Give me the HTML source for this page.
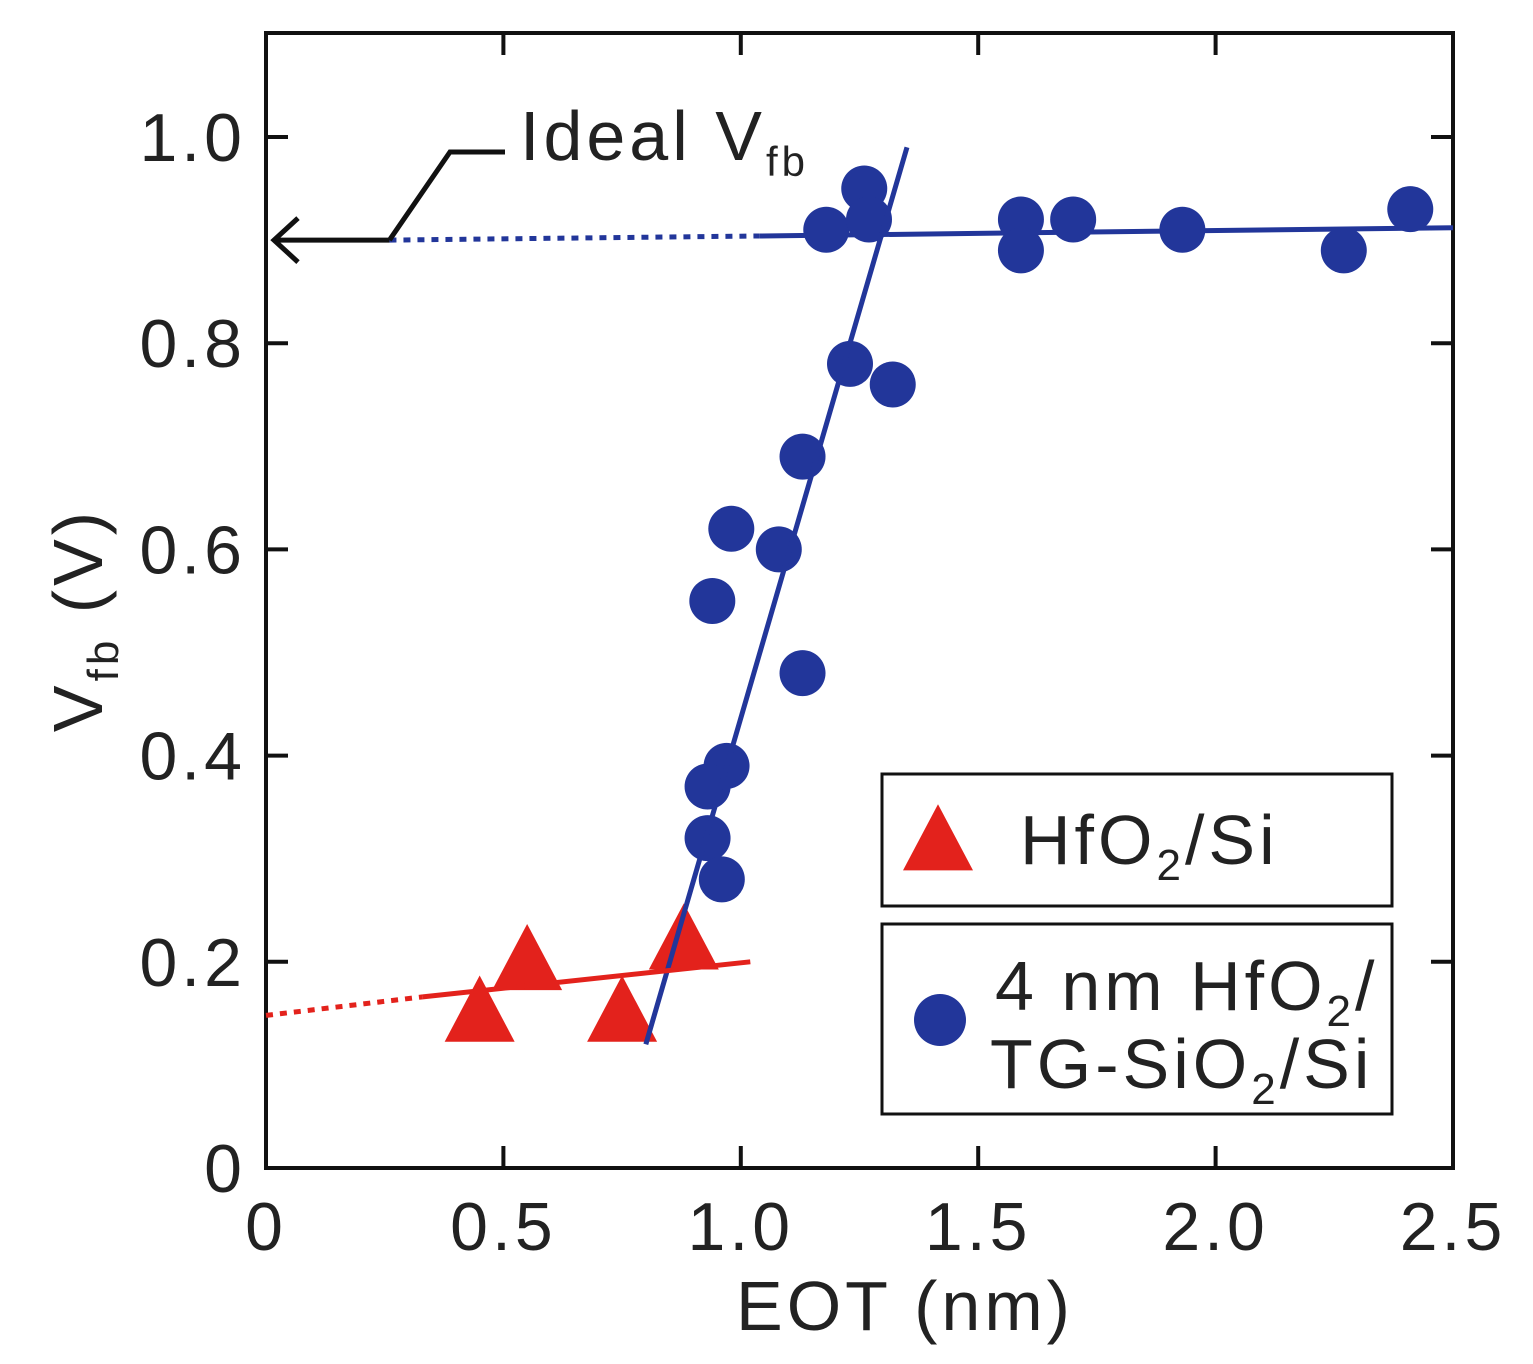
<!DOCTYPE html>
<html><head><meta charset="utf-8"><style>
html,body{margin:0;padding:0;background:#fff;}
svg{display:block;font-family:"Liberation Sans",sans-serif;}
</style></head><body>
<svg id="chart" width="1533" height="1364" viewBox="0 0 1533 1364">
<g id="marks"></g>
</svg>
<script>
const xTicks=[0,0.5,1.0,1.5,2.0,2.5];
const xTickLabels=["0","0.5","1.0","1.5","2.0","2.5"];
const yTicks=[0,0.2,0.4,0.6,0.8,1.0];
const yTickLabels=["0","0.2","0.4","0.6","0.8","1.0"];
const blueX=[1.18,1.26,1.27,1.59,1.59,1.70,1.93,2.27,2.41,1.23,1.32,1.13,0.98,1.08,0.94,1.13,0.97,0.93,0.93,0.96];
const blueY=[0.91,0.95,0.92,0.92,0.89,0.92,0.91,0.89,0.93,0.78,0.76,0.69,0.62,0.60,0.55,0.48,0.39,0.37,0.32,0.28];
const redX=[0.45,0.55,0.75,0.88];
const redY=[0.15,0.20,0.15,0.22];
const blueSteepFit=[[0.80,0.12],[1.35,0.99]];
const blueFlatFit=[[1.04,0.904],[2.5,0.912]];
const blueFlatDotted=[[0.26,0.90],[1.04,0.904]];
const redFit=[[0.33,0.166],[1.02,0.20]];
const redDotted=[[0.0,0.148],[0.33,0.166]];

const L=266,R=1453,T=33,B=1168;
const xs=v=>L+v*(R-L)/2.5;
const ys=v=>B-v*1031;
const NS="http://www.w3.org/2000/svg";
const svg=document.getElementById('chart');
function mk(tag,attrs,parent){const e=document.createElementNS(NS,tag);for(const k in attrs)e.setAttribute(k,attrs[k]);(parent||svg).appendChild(e);return e;}
const BLUE="#22369a",RED="#e3221c";

let f=mk('rect',{x:L,y:T,width:R-L,height:B-T,fill:'none',stroke:'#111','stroke-width':4});



xTicks.forEach((v,i)=>{
  const x=xs(v);
  let t=mk('line',{x1:x,y1:B,x2:x,y2:B-22,stroke:'#111','stroke-width':4});
  
  
  let t2=mk('line',{x1:x,y1:T,x2:x,y2:T+22,stroke:'#111','stroke-width':4});
  
  
  let lb=mk('text',{x:x,y:1250,'text-anchor':'middle','font-size':68,'letter-spacing':4,fill:'#222'});
  lb.textContent=xTickLabels[i];
  
  
});
yTicks.forEach((v,i)=>{
  const y=ys(v);
  let t=mk('line',{x1:L,y1:y,x2:L+22,y2:y,stroke:'#111','stroke-width':4});
  
  
  let t2=mk('line',{x1:R,y1:y,x2:R-22,y2:y,stroke:'#111','stroke-width':4});
  
  
  let lb=mk('text',{x:246,y:y+24,'text-anchor':'end','font-size':68,'letter-spacing':4,fill:'#222'});
  lb.textContent=yTickLabels[i];
  
  
});

function seg(p,color,dash,name){
  const a={x1:xs(p[0][0]),y1:ys(p[0][1]),x2:xs(p[1][0]),y2:ys(p[1][1]),stroke:color,'stroke-width':5};
  if(dash)a['stroke-dasharray']=dash;
  let e=mk('line',a);
  
  
}
seg(blueFlatDotted,BLUE,'7 7','ideal-vfb-dotted-line');
seg(redDotted,RED,'7 7','red-extrapolation-dotted');

let an=mk('path',{d:`M${xs(0.26)} ${ys(0.90)} L274 ${ys(0.90)} M298 ${ys(0.90)-22} L274 ${ys(0.90)} L298 ${ys(0.90)+22} M${xs(0.26)} ${ys(0.90)} L450 152 L505 152`,fill:'none',stroke:'#111','stroke-width':5});


let at=mk('text',{x:520,y:160,'font-size':70,'letter-spacing':4,fill:'#222'});
at.innerHTML='Ideal V<tspan font-size="42" dy="16">fb</tspan>';



blueX.forEach((x,i)=>{
  let c=mk('circle',{cx:xs(x),cy:ys(blueY[i]),r:23,fill:BLUE});
  
  
});
function tri(cx,cy,s,name){
  const h=s*0.9;
  let p=mk('polygon',{points:`${cx},${cy-h*0.6} ${cx-s/2},${cy+h*0.45} ${cx+s/2},${cy+h*0.45}`,fill:RED});
  
  
}
redX.forEach((x,i)=>tri(xs(x),ys(redY[i]),70,'red-triangle-point'));
seg(blueFlatFit,BLUE,null,'blue-flat-fit-line');
seg(blueSteepFit,BLUE,null,'blue-steep-fit-line');
seg(redFit,RED,null,'red-fit-line');

let lb1=mk('rect',{x:882,y:774,width:510,height:132,fill:'#fff',stroke:'#111','stroke-width':3});


tri(938,842,70,'legend-triangle-icon');
let l1=mk('text',{x:1020,y:864,'font-size':70,'letter-spacing':4,fill:'#222'});
l1.innerHTML='HfO<tspan font-size="44" dy="16">2</tspan><tspan dy="-16">/Si</tspan>';


let lb2=mk('rect',{x:882,y:924,width:510,height:190,fill:'#fff',stroke:'#111','stroke-width':3});


let lc=mk('circle',{cx:940,cy:1020,r:26,fill:BLUE});


let l2=mk('text',{x:995,y:1010,'font-size':70,'letter-spacing':4,fill:'#222'});
l2.innerHTML='4 nm HfO<tspan font-size="44" dy="16">2</tspan><tspan dy="-16">/</tspan>';


let l3=mk('text',{x:990,y:1088,'font-size':70,'letter-spacing':4,fill:'#222'});
l3.innerHTML='TG-SiO<tspan font-size="44" dy="16">2</tspan><tspan dy="-16">/Si</tspan>';



let xt=mk('text',{x:905,y:1330,'text-anchor':'middle','font-size':70,'letter-spacing':4,fill:'#222'});
xt.textContent='EOT (nm)';


let yt=mk('text',{x:0,y:0,'text-anchor':'middle','font-size':70,'letter-spacing':4,fill:'#222',transform:'translate(102,620) rotate(-90)'});
yt.innerHTML='V<tspan font-size="44" dy="16">fb</tspan><tspan dy="-16"> (V)</tspan>';


</script>
</body></html>
